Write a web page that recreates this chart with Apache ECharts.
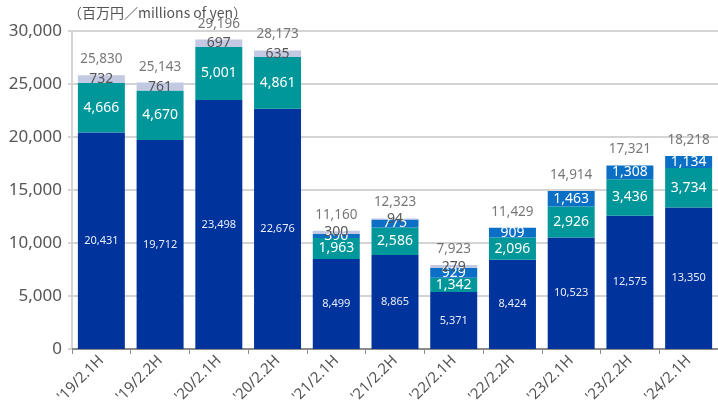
<!DOCTYPE html>
<html>
<head>
<meta charset="utf-8">
<script src="https://cdn.jsdelivr.net/npm/echarts@6/dist/echarts.min.js"></script>
<style>
  html, body { margin: 0; padding: 0; background: #fff; }
  #chart { width: 718px; height: 412px; }
</style>
</head>
<body>
<div id="chart"></div>
<script>
const categories = ["'19/2.1H", "'19/2.2H", "'20/2.1H", "'20/2.2H", "'21/2.1H", "'21/2.2H",
  "'22/2.1H", "'22/2.2H", "'23/2.1H", "'23/2.2H", "'24/2.1H"];
const seriesA = [20431, 19712, 23498, 22676, 8499, 8865, 5371, 8424, 10523, 12575, 13350];
const seriesB = [4666, 4670, 5001, 4861, 1963, 2586, 1342, 2096, 2926, 3436, 3734];
const seriesC = [null, null, null, null, 396, 775, 929, 909, 1463, 1308, 1134];
const seriesD = [732, 761, 697, 635, 300, 94, 279, null, null, null, null];
const totals = [25830, 25143, 29196, 28173, 11160, 12323, 7923, 11429, 14914, 17321, 18218];
const yTicks = { min: 0, max: 30000, interval: 5000 };

const fmt = v => Number(v).toLocaleString('en-US');
const FONT = '"Noto Sans", "Noto Sans CJK JP", sans-serif';
const TXT = '#555555';

function stackBar(name, data, color, labelColor, fontSize) {
  return {
    name, type: 'bar', stack: 'total', data,
    barCategoryGap: '20%',
    itemStyle: { color },
    label: {
      show: true, position: 'inside', color: labelColor,
      fontSize, fontFamily: FONT,
      formatter: p => fmt(p.value)
    }
  };
}

const chart = echarts.init(document.getElementById('chart'), null, { renderer: 'canvas' });
chart.setOption({
  animation: false,
  grid: { left: 72, top: 31, width: 649, height: 318, containLabel: false },
  graphic: [{
    type: 'text', left: 68, top: 6,
    style: { text: '（百万円／millions of yen）', fill: TXT, font: '14px "Noto Sans CJK JP", sans-serif' }
  }],
  xAxis: {
    type: 'category', data: categories,
    axisLine: { lineStyle: { color: '#8c8c8c', width: 2 } },
    axisTick: { show: true, length: 5, lineStyle: { color: '#8c8c8c' } },
    axisLabel: { rotate: 45, color: TXT, fontSize: 15, fontFamily: FONT, margin: 9, interval: 0 }
  },
  yAxis: {
    type: 'value', min: yTicks.min, max: yTicks.max, interval: yTicks.interval,
    axisLine: { show: true, lineStyle: { color: '#d4d4d4', width: 2 } },
    axisTick: { show: true, length: 4, lineStyle: { color: '#d4d4d4', width: 2 } },
    splitLine: { lineStyle: { color: '#d4d4d4', width: 2 } },
    axisLabel: { color: TXT, fontSize: 17, fontFamily: FONT, margin: 10, formatter: v => fmt(v) }
  },
  series: [
    stackBar('A', seriesA, '#00339b', '#e8ecf8', 11),
    stackBar('B', seriesB, '#00979b', '#ffffff', 14),
    stackBar('C', seriesC, '#0b6fc6', '#ffffff', 14),
    stackBar('D', seriesD, '#c3c9e2', TXT, 14),
    {
      name: 'Total', type: 'scatter', data: totals, symbolSize: 0,
      label: {
        show: true, position: 'top', distance: 9, color: TXT,
        fontSize: 13.5, fontFamily: FONT, formatter: p => fmt(p.value)
      },
      z: 5
    }
  ]
});
</script>
</body>
</html>
